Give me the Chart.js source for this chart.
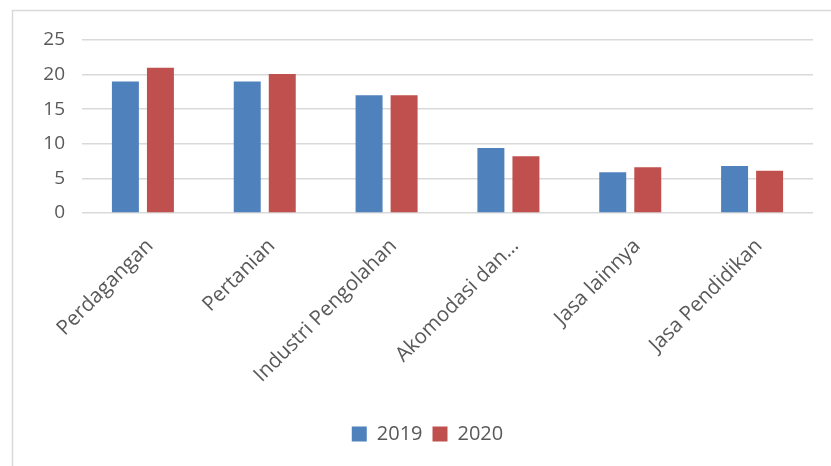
<!DOCTYPE html>
<html>
<head>
<meta charset="utf-8">
<script src="https://cdn.jsdelivr.net/npm/chart.js@4"></script>
<style>
  html, body { margin: 0; padding: 0; background: #ffffff; }
  #wrap { width: 831px; height: 466px; position: relative; }
</style>
</head>
<body>
<div id="wrap"><canvas id="c" width="831" height="466"></canvas></div>
<script>
// Sector categories and yearly values
const categories = ['Perdagangan', 'Pertanian', 'Industri Pengolahan', 'Akomodasi dan…', 'Jasa lainnya', 'Jasa Pendidikan'];
const values2019 = [19, 19, 17, 9.4, 5.9, 6.8];
const values2020 = [21, 20.1, 17, 8.2, 6.6, 6.1];
const yTicks = [0, 5, 10, 15, 20, 25];

const textColor = '#595959';
const fontFamily = '"Open Sans", Lato, sans-serif';

// Thin frame along the top and left edges of the chart box
const frame = {
  id: 'frame',
  beforeDraw(chart) {
    const ctx = chart.ctx;
    ctx.save();
    ctx.strokeStyle = '#d9d9d9';
    ctx.lineWidth = 1.5;
    ctx.strokeRect(12.5, 10.5, 900, 600);
    ctx.restore();
  }
};

new Chart(document.getElementById('c'), {
  type: 'bar',
  data: {
    labels: categories,
    datasets: [
      { label: '2019', data: values2019, backgroundColor: '#4f81bd', categoryPercentage: 0.575, barPercentage: 0.77 },
      { label: '2020', data: values2020, backgroundColor: '#c0504d', categoryPercentage: 0.575, barPercentage: 0.77 }
    ]
  },
  options: {
    responsive: false,
    animation: false,
    layout: { padding: { top: 40, right: 18, bottom: 12, left: 42 } },
    plugins: {
      tooltip: { enabled: false },
      legend: {
        position: 'bottom',
        labels: {
          color: textColor,
          font: { family: fontFamily, size: 20 },
          boxWidth: 15,
          boxHeight: 15,
          padding: 10
        }
      }
    },
    scales: {
      x: {
        grid: { display: false },
        border: { display: false },
        ticks: {
          color: textColor,
          font: { family: fontFamily, size: 20.5 },
          minRotation: 45,
          maxRotation: 45,
          padding: 13,
          labelOffset: 7
        },
        afterFit(scale) { scale.height = 201; }
      },
      y: {
        min: 0,
        max: 25,
        afterBuildTicks(scale) { scale.ticks = yTicks.map(v => ({ value: v })); },
        grid: { color: '#d9d9d9', lineWidth: 1.5, drawTicks: false },
        border: { display: false },
        ticks: {
          color: textColor,
          font: { family: fontFamily, size: 19 },
          padding: 17
        },
        afterFit(scale) { scale.width = 40; }
      }
    }
  },
  plugins: [frame]
});
</script>
</body>
</html>
